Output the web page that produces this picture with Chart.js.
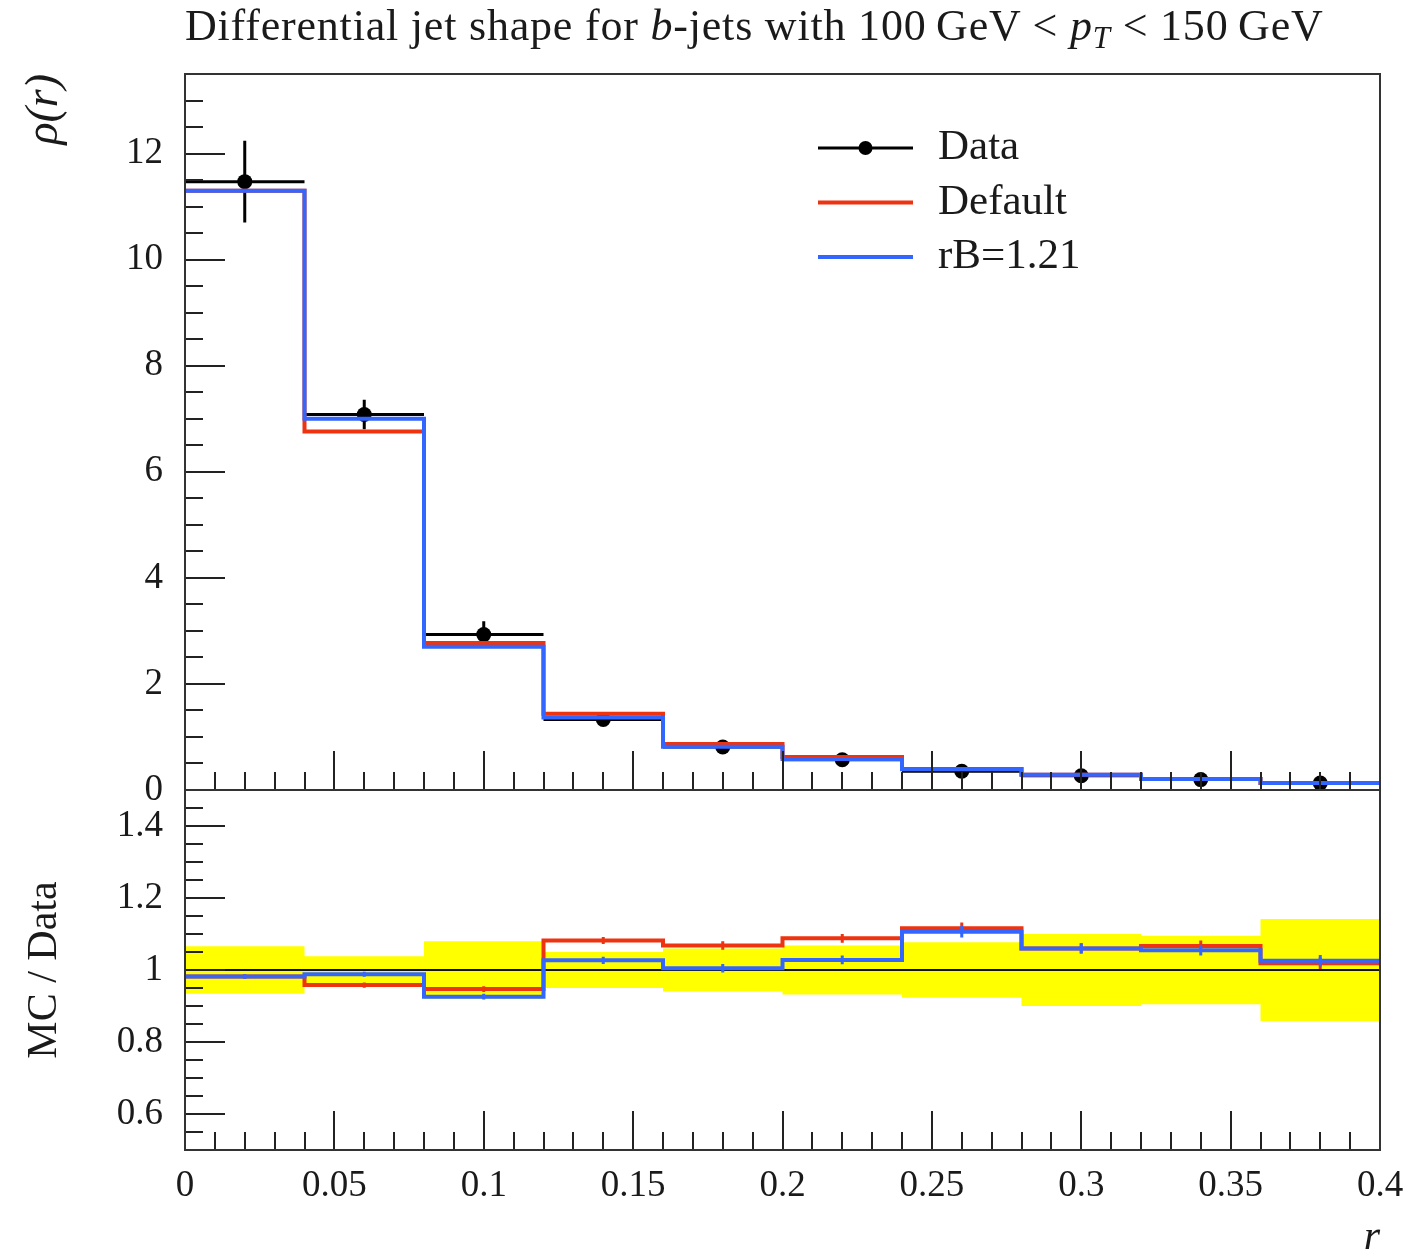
<!DOCTYPE html>
<html>
<head>
<meta charset="utf-8">
<title>Forma diferencial de jets b</title>
<script src="https://cdn.jsdelivr.net/npm/chart.js@4.4.1/dist/chart.umd.min.js"></script>
<style>
    html, body { margin: 0; padding: 0; background: #fff; overflow: hidden; }
    #pagina { position: relative; width: 1412px; height: 1249px; overflow: hidden; }
    canvas { position: absolute; left: 0; top: 0; }
    #titulo {
        position: absolute; left: 185px; top: 4px;
        font-family: "Liberation Serif", serif; font-size: 44px; line-height: 44px;
        letter-spacing: 0.8px; color: #1a1a1a; white-space: nowrap;
    }
    #titulo sub { font-size: 31px; vertical-align: -8px; line-height: 0; }
</style>
</head>
<body>
<div id="pagina">
    <canvas id="principal" width="1412" height="1249"></canvas>
    <canvas id="cociente" width="1412" height="1249"></canvas>
    <div id="titulo">Differential jet shape for <i>b</i>-jets with 100&#8201;GeV &lt; <i>p</i><sub><i>T</i></sub> &lt; 150&#8201;GeV</div>
</div>
<script>
// Bordes de los bins en r
const bordes = [0, 0.04, 0.08, 0.12, 0.16, 0.2, 0.24, 0.28, 0.32, 0.36, 0.4];
const nombresSeries = ["Data", "Default", "rB=1.21"];

// Panel principal: rho(r)
const datos = [11.47, 7.08, 2.93, 1.33, 0.81, 0.57, 0.353, 0.27, 0.196, 0.13];
const errDatos = [0.77, 0.28, 0.25, 0.067, 0.049, 0.039, 0.027, 0.027, 0.019, 0.018];
const porDefecto = [11.3, 6.76, 2.77, 1.44, 0.865, 0.62, 0.394, 0.286, 0.209, 0.132];
const rB121 = [11.3, 7.0, 2.70, 1.365, 0.815, 0.585, 0.39, 0.286, 0.207, 0.133];

// Panel de cociente MC/Data
const cocDefecto = [0.982, 0.958, 0.947, 1.082, 1.068, 1.088, 1.116, 1.06, 1.067, 1.019];
const cocRB = [0.982, 0.988, 0.926, 1.027, 1.005, 1.028, 1.106, 1.06, 1.055, 1.026];
const errCocMC = [0.006, 0.007, 0.008, 0.01, 0.012, 0.012, 0.016, 0.014, 0.015, 0.016];
const bandaDatos = [0.066, 0.038, 0.08, 0.05, 0.06, 0.068, 0.077, 0.10, 0.095, 0.142];

// Marcas y etiquetas de los ejes
const ticksX = [0, 0.05, 0.1, 0.15, 0.2, 0.25, 0.3, 0.35, 0.4];
const etiquetasX = ["0", "0.05", "0.1", "0.15", "0.2", "0.25", "0.3", "0.35", "0.4"];
const ticksYPrincipal = [0, 2, 4, 6, 8, 10, 12];
const etiquetasYPrincipal = ["0", "2", "4", "6", "8", "10", "12"];
const ticksYCociente = [0.6, 0.8, 1, 1.2, 1.4];
const etiquetasYCociente = ["0.6", "0.8", "1", "1.2", "1.4"];

const rojo = "#ee3311";
const azul = "#3366ff";
const fuente = "'Liberation Serif', serif";

Chart.defaults.font.family = fuente;
Chart.defaults.color = "#1a1a1a";

// Histograma escalonado: un punto por borde izquierdo y otro al final
function escalon(valores) {
    let pts = valores.map((v, i) => ({ x: bordes[i], y: v }));
    pts.push({ x: bordes[bordes.length - 1], y: valores[valores.length - 1] });
    return pts;
}

function centro(i) {
    return (bordes[i] + bordes[i + 1]) / 2;
}

// Barras de error verticales (y horizontales si se pide), cortadas con null
function barrasError(valores, errores, conAncho) {
    let pts = [];
    valores.forEach((v, i) => {
        let xc = centro(i);
        if (conAncho) {
            pts.push({ x: bordes[i], y: v }, { x: bordes[i + 1], y: v }, { x: xc, y: null });
        }
        pts.push({ x: xc, y: v - errores[i] }, { x: xc, y: v + errores[i] }, { x: xc, y: null });
    });
    return pts;
}

// Marcas hacia dentro en los ejes x e y, y el marco del panel
const ticksInternos = {
    id: "ticksInternos",
    afterDatasetsDraw(chart, args, opts) {
        const { ctx, chartArea: a, scales } = chart;
        ctx.save();
        ctx.strokeStyle = "#222";
        ctx.lineWidth = 2;
        ctx.beginPath();

        let sx = scales.x;
        let nx = Math.round((sx.max - sx.min) / opts.pasoX);
        for (let i = 1; i < nx; i++) {
            let v = sx.min + i * opts.pasoX;
            let mayor = opts.mayoresX.some(m => Math.abs(m - v) < 1e-9);
            let px = Math.round(sx.getPixelForValue(v));
            ctx.moveTo(px, a.bottom);
            ctx.lineTo(px, a.bottom - (mayor ? 39 : 18));
        }

        let sy = scales.y;
        let ny = Math.round((sy.max - sy.min) / opts.pasoY);
        for (let i = 1; i < ny; i++) {
            let v = sy.min + i * opts.pasoY;
            let mayor = opts.mayoresY.some(m => Math.abs(m - v) < 1e-9);
            let py = Math.round(sy.getPixelForValue(v));
            ctx.moveTo(a.left, py);
            ctx.lineTo(a.left + (mayor ? 40 : 18), py);
        }
        ctx.stroke();

        ctx.strokeStyle = "#333";
        ctx.strokeRect(a.left, a.top, a.right - a.left, a.bottom - a.top);
        ctx.restore();
    }
};

// Leyenda dentro del panel principal
const leyenda = {
    id: "leyenda",
    afterDatasetsDraw(chart, args, opts) {
        if (!opts.entradas) return;
        const ctx = chart.ctx;
        ctx.save();
        opts.entradas.forEach((e, i) => {
            let y = opts.y0 + i * opts.dy;
            ctx.strokeStyle = e.color;
            ctx.lineWidth = e.ancho;
            ctx.beginPath();
            ctx.moveTo(opts.x0, y);
            ctx.lineTo(opts.x1, y);
            ctx.stroke();
            if (e.punto) {
                ctx.fillStyle = e.color;
                ctx.beginPath();
                ctx.arc((opts.x0 + opts.x1) / 2, y, 7, 0, Math.PI * 2);
                ctx.fill();
            }
            ctx.fillStyle = "#1a1a1a";
            ctx.font = "43px " + fuente;
            ctx.textBaseline = "middle";
            ctx.textAlign = "left";
            ctx.fillText(e.texto, opts.xTexto, y);
        });
        ctx.restore();
    }
};

function ejeY(min, max, ticks, etiquetas, titulo) {
    return {
        type: "linear",
        min: min,
        max: max,
        afterFit: s => { s.width = 185; },
        afterBuildTicks: s => { s.ticks = ticks.map(v => ({ value: v })); },
        grid: { display: false, drawTicks: false },
        border: { display: false },
        ticks: {
            padding: 22,
            font: { size: 37 },
            callback: (v, i) => etiquetas[i]
        },
        title: titulo
    };
}

new Chart(document.getElementById("principal"), {
    type: "line",
    data: {
        datasets: [
            {
                label: nombresSeries[2], data: escalon(rB121), stepped: true,
                borderColor: azul, borderWidth: 4, pointRadius: 0, fill: false, borderJoinStyle: "miter"
            },
            {
                label: nombresSeries[1], data: escalon(porDefecto), stepped: true,
                borderColor: rojo, borderWidth: 4, pointRadius: 0, fill: false, borderJoinStyle: "miter"
            },
            {
                label: nombresSeries[0] + " errores", data: barrasError(datos, errDatos, true),
                borderColor: "#000", borderWidth: 3, pointRadius: 0, fill: false, spanGaps: false
            },
            {
                label: nombresSeries[0], data: datos.map((v, i) => ({ x: centro(i), y: v })),
                showLine: false, pointRadius: 7.5, pointBackgroundColor: "#000", pointBorderWidth: 0
            }
        ]
    },
    options: {
        responsive: false,
        animation: false,
        events: [],
        devicePixelRatio: 1,
        layout: { autoPadding: false, padding: { left: 0, right: 32, top: 74, bottom: 1249 - 790 } },
        scales: {
            x: { type: "linear", min: 0, max: 0.4, display: false },
            y: ejeY(0, 13.5, ticksYPrincipal, etiquetasYPrincipal, {
                display: true, text: "ρ(r)", align: "end",
                font: { size: 46, style: "italic" }, padding: { top: 17, bottom: 0 }
            })
        },
        plugins: {
            legend: { display: false },
            tooltip: { enabled: false },
            ticksInternos: { pasoX: 0.01, mayoresX: ticksX, pasoY: 0.5, mayoresY: ticksYPrincipal },
            leyenda: {
                x0: 818, x1: 913, xTexto: 938, y0: 148, dy: 54.5,
                entradas: [
                    { texto: nombresSeries[0], color: "#000", ancho: 3, punto: true },
                    { texto: nombresSeries[1], color: rojo, ancho: 4 },
                    { texto: nombresSeries[2], color: azul, ancho: 4 }
                ]
            }
        }
    },
    plugins: [ticksInternos, leyenda]
});

new Chart(document.getElementById("cociente"), {
    type: "line",
    data: {
        datasets: [
            {
                label: nombresSeries[2], data: escalon(cocRB), stepped: true,
                borderColor: azul, borderWidth: 4, pointRadius: 0, fill: false, borderJoinStyle: "miter"
            },
            {
                label: nombresSeries[2] + " errores", data: barrasError(cocRB, errCocMC, false),
                borderColor: azul, borderWidth: 3, pointRadius: 0, fill: false
            },
            {
                label: nombresSeries[1], data: escalon(cocDefecto), stepped: true,
                borderColor: rojo, borderWidth: 4, pointRadius: 0, fill: false, borderJoinStyle: "miter"
            },
            {
                label: nombresSeries[1] + " errores", data: barrasError(cocDefecto, errCocMC, false),
                borderColor: rojo, borderWidth: 3, pointRadius: 0, fill: false
            },
            {
                label: "uno", data: [{ x: 0, y: 1 }, { x: 0.4, y: 1 }],
                borderColor: "#111", borderWidth: 2, pointRadius: 0, fill: false
            },
            {
                label: "banda sup", data: escalon(bandaDatos.map(e => 1 + e)), stepped: true,
                borderColor: "rgba(0,0,0,0)", borderWidth: 0, pointRadius: 0,
                backgroundColor: "#ffff00", fill: "+1"
            },
            {
                label: "banda inf", data: escalon(bandaDatos.map(e => 1 - e)), stepped: true,
                borderColor: "rgba(0,0,0,0)", borderWidth: 0, pointRadius: 0, fill: false
            }
        ]
    },
    options: {
        responsive: false,
        animation: false,
        events: [],
        devicePixelRatio: 1,
        layout: { autoPadding: false, padding: { left: 0, right: 32, top: 790, bottom: 0 } },
        scales: {
            x: {
                type: "linear", min: 0, max: 0.4,
                // alto fijo y sin margen extra por la última etiqueta
                afterFit: s => { s.height = 99; s.paddingLeft = 0; s.paddingRight = 0; },
                afterBuildTicks: s => { s.ticks = ticksX.map(v => ({ value: v })); },
                grid: { display: false, drawTicks: false },
                border: { display: false },
                ticks: {
                    padding: 14, autoSkip: false, maxRotation: 0,
                    font: { size: 37 },
                    callback: (v, i) => etiquetasX[i]
                },
                title: {
                    display: true, text: "r", align: "end",
                    font: { size: 42, style: "italic", lineHeight: 1 }, padding: { top: 0, bottom: -10 }
                }
            },
            y: ejeY(0.5, 1.5, ticksYCociente, etiquetasYCociente, {
                display: true, text: "MC / Data", align: "center",
                font: { size: 42 }, padding: { top: 20, bottom: 0 }
            })
        },
        plugins: {
            legend: { display: false },
            tooltip: { enabled: false },
            ticksInternos: { pasoX: 0.01, mayoresX: ticksX, pasoY: 0.05, mayoresY: ticksYCociente }
        }
    },
    plugins: [ticksInternos]
});
</script>
</body>
</html>
